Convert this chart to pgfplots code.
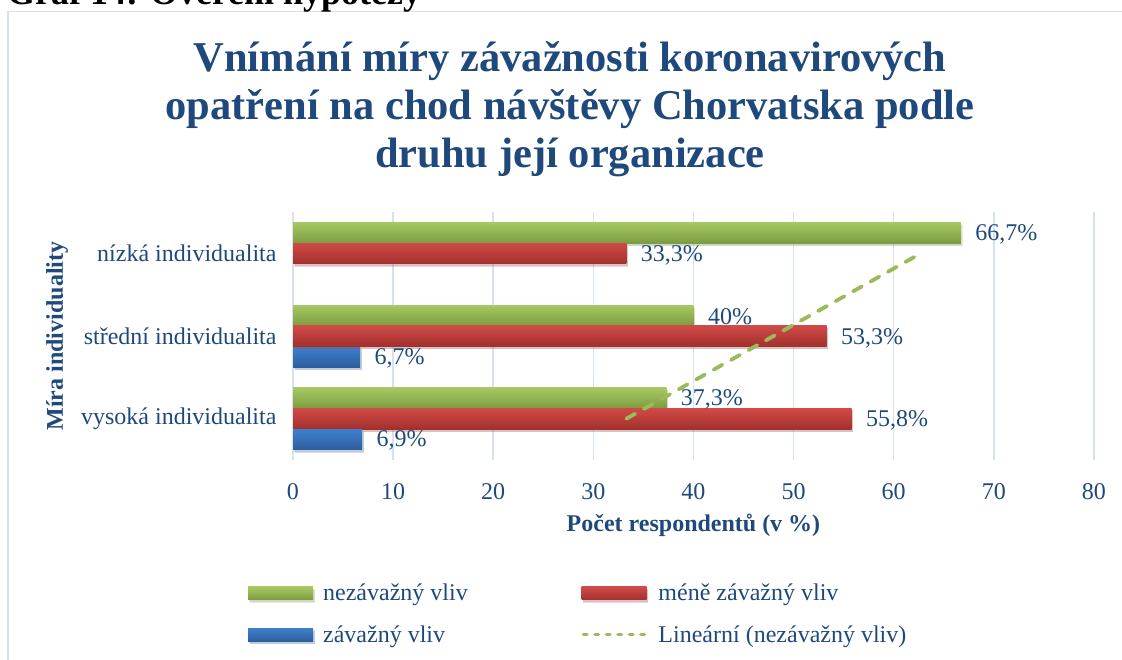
\documentclass[border=0pt]{standalone}
\usepackage{fontspec}
\setmainfont{Liberation Serif}
\usepackage{pgfplots}
\pgfplotsset{compat=1.18}
\usetikzlibrary{shadows}
\definecolor{tblue}{HTML}{1F497D}
\definecolor{gridc}{HTML}{D6E2F1}
\definecolor{frameC}{HTML}{D5DFEE}
\definecolor{gTop}{HTML}{A6C963}
\definecolor{gBot}{HTML}{7D9C41}
\definecolor{gMid}{HTML}{9BBB59}
\definecolor{rTop}{HTML}{D04A47}
\definecolor{rBot}{HTML}{A3302D}
\definecolor{bTop}{HTML}{3F80CD}
\definecolor{bBot}{HTML}{2D5E9E}
\begin{document}
\begin{tikzpicture}
\useasboundingbox (0,0) rectangle (1122pt,-660pt);
\draw[frameC, line width=1.5pt] (8pt,-11.5pt) rectangle (1160pt,-700pt);
\node[anchor=base west, font=\fontsize{36}{40}\selectfont\bfseries, inner sep=0pt] at (7pt,-5pt) {Graf 14: Ověření hypotézy};
\node[anchor=base, inner sep=0pt, font=\fontsize{42.5}{48}\selectfont\bfseries, text=tblue] at (570pt,-72pt) {Vnímání míry závažnosti koronavirových};
\node[anchor=base, inner sep=0pt, font=\fontsize{42.5}{48}\selectfont\bfseries, text=tblue] at (570pt,-120pt) {opatření na chod návštěvy Chorvatska podle};
\node[anchor=base, inner sep=0pt, font=\fontsize{42.5}{48}\selectfont\bfseries, text=tblue] at (570pt,-168pt) {druhu její organizace};
\begin{axis}[
  at={(293pt,-460pt)}, anchor=south west,
  scale only axis, width=801pt, height=248pt,
  xmin=0, xmax=80, ymin=-0.5, ymax=2.5,
  xtick={0,10,...,80}, ytick={0,1,2},
  yticklabels={vysoká individualita, střední individualita, nízká individualita},
  xmajorgrids, grid style={gridc, line width=1.5pt},
  axis line style={draw=none},
  major tick length=0pt,
  tick label style={font=\fontsize{24}{28}\selectfont, text=tblue},
  /pgf/number format/assume math mode=true,
  xticklabel style={yshift=-20pt},
  yticklabel style={xshift=-13pt},
  xlabel={Počet respondentů (v \%)},
  ylabel={Míra individuality},
  label style={font=\fontsize{24}{28}\selectfont\bfseries, text=tblue},
  xlabel style={at={(axis description cs:0.5,-0.290)}, anchor=base},
  ylabel style={at={(axis description cs:-0.2946,0.5)}, anchor=center},
  legend columns=2,
  legend cell align=left,
  legend style={at={(axis description cs:-0.06,-0.4839)}, anchor=north west,
    draw=none, fill=none, font=\fontsize{24}{28}\selectfont, text=tblue,
    /tikz/every odd column/.append style={column sep=8pt},
    /tikz/every even column/.append style={column sep=112pt}, row sep=19pt},
  nlab/.style={nodes near coords={\pgfmathprintnumber[use comma,fixed,precision=1]{\pgfplotspointmeta}\%},
    point meta=x,
    nodes near coords style={font=\fontsize{24}{28}\selectfont, text=tblue, anchor=west, xshift=11pt, yshift=#1}},
  gbar/.style={xbar, bar width=0.25, bar shift=0.25, draw=none, top color=gTop, bottom color=gBot,
    drop shadow={shadow xshift=1.5pt, shadow yshift=-2.5pt, opacity=0.2}, nlab=19pt,
    legend image code/.code={\shade[top color=gTop,bottom color=gBot] (0pt,-6.5pt) rectangle (65pt,6.5pt);}},
  rbar/.style={xbar, bar width=0.25, bar shift=0, draw=none, top color=rTop, bottom color=rBot,
    drop shadow={shadow xshift=1.5pt, shadow yshift=-2.5pt, opacity=0.2}, nlab=-2pt,
    legend image code/.code={\shade[top color=rTop,bottom color=rBot] (0pt,-6.5pt) rectangle (65pt,6.5pt);}},
  bbar/.style={xbar, bar width=0.25, bar shift=-0.25, draw=none, top color=bTop, bottom color=bBot,
    drop shadow={shadow xshift=1.5pt, shadow yshift=-2.5pt, opacity=0.2}, nlab=-22pt,
    legend image code/.code={\shade[top color=bTop,bottom color=bBot] (0pt,-6.5pt) rectangle (65pt,6.5pt);}},
]
% nezávažný vliv
\addplot[gbar] coordinates {(66.7,2)};
\addlegendentry{nezávažný vliv}
% méně závažný vliv
\addplot[rbar] coordinates {(33.3,2)};
\addlegendentry{méně závažný vliv}
% závažný vliv
\addplot[bbar] coordinates {(6.7,1)};
\addlegendentry{závažný vliv}
\addplot[gbar, forget plot] coordinates {(40,1)};
\addplot[gbar, forget plot] coordinates {(37.3,0)};
\addplot[rbar, forget plot] coordinates {(53.3,1)};
\addplot[rbar, forget plot] coordinates {(55.8,0)};
\addplot[bbar, forget plot] coordinates {(6.9,0)};
% lineární trend (nezávažný vliv)
\addplot[gMid, line width=3.8pt, line cap=round, dash pattern=on 10pt off 10pt,
  legend image code/.code={\draw[gMid, line width=3.5pt, line cap=round, dash pattern=on 3.5pt off 8pt] (1.75pt,0pt) -- (65pt,0pt);}]
  coordinates {(33.3,0) (62.7,2)};
\addlegendentry{Lineární (nezávažný vliv)}
\end{axis}
\end{tikzpicture}
\end{document}
